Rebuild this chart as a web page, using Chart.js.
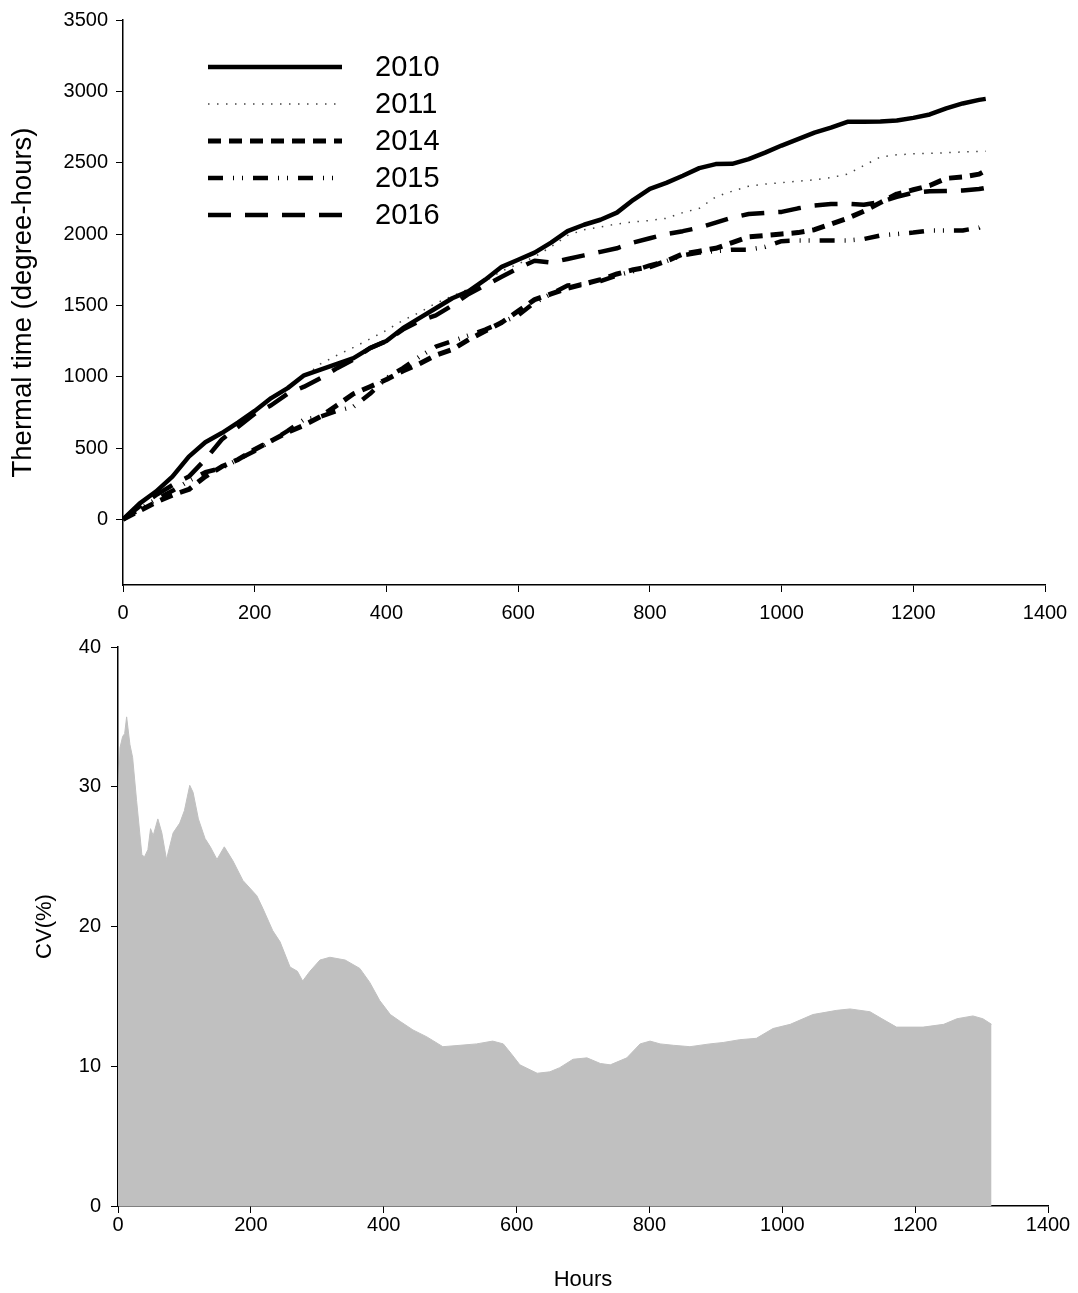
<!DOCTYPE html>
<html>
<head>
<meta charset="utf-8">
<script src="https://cdn.jsdelivr.net/npm/chart.js@4/dist/chart.umd.min.js"></script>
<style>
  body { margin: 0; background: #fff; }
  canvas { position: absolute; left: 0; }
  #topChart { top: 0; }
  #cvChart { top: 625px; }
</style>
</head>
<body>
<canvas id="topChart" width="1078" height="625"></canvas>
<canvas id="cvChart" width="1078" height="668"></canvas>
<script>
// data
var years = ['2010', '2011', '2014', '2015', '2016'];
var hours = [0, 25, 50, 75, 100, 125, 150, 175, 200, 225, 250, 275, 300, 325, 350, 375, 400, 425, 450, 475,
  500, 525, 550, 575, 600, 625, 650, 675, 700, 725, 750, 775, 800, 825, 850, 875, 900, 925, 950, 975,
  1000, 1025, 1050, 1075, 1100, 1125, 1150, 1175, 1200, 1225, 1250, 1275, 1300, 1310];
var tt2010 = [0, 110, 195, 300, 440, 540, 605, 680, 760, 850, 920, 1010, 1050, 1090, 1130, 1200, 1250, 1340, 1410, 1480,
  1550, 1600, 1680, 1770, 1820, 1870, 1940, 2020, 2065, 2100, 2150, 2240, 2317, 2358, 2408, 2462, 2490, 2492, 2525, 2570,
  2620, 2665, 2710, 2745, 2786, 2786, 2788, 2795, 2814, 2838, 2880, 2915, 2940, 2947];
var tt2011 = [0, 110, 190, 300, 430, 540, 610, 675, 755, 840, 920, 1000, 1090, 1150, 1205, 1265, 1325, 1395, 1450, 1515,
  1565, 1615, 1670, 1740, 1790, 1840, 1910, 1990, 2030, 2050, 2070, 2085, 2095, 2110, 2150, 2180, 2260, 2300, 2335, 2350,
  2360, 2370, 2380, 2395, 2420, 2480, 2540, 2555, 2562, 2565, 2570, 2575, 2578, 2580];
var tt2014 = [0, 60, 120, 170, 210, 300, 370, 420, 490, 550, 610, 660, 720, 800, 880, 930, 980, 1040, 1090, 1150,
  1190, 1260, 1320, 1380, 1460, 1540, 1580, 1620, 1650, 1680, 1720, 1750, 1770, 1810, 1860, 1880, 1900, 1940, 1980, 1990,
  2000, 2010, 2030, 2070, 2110, 2160, 2220, 2280, 2310, 2340, 2390, 2400, 2420, 2445];
var tt2015 = [0, 70, 140, 200, 270, 330, 360, 420, 480, 550, 620, 700, 720, 760, 790, 880, 990, 1060, 1140, 1210,
  1250, 1290, 1330, 1380, 1430, 1520, 1580, 1640, 1650, 1670, 1710, 1740, 1780, 1810, 1850, 1870, 1880, 1890, 1890, 1910,
  1950, 1955, 1955, 1955, 1955, 1965, 1990, 2000, 2010, 2025, 2025, 2025, 2045, 2070];
var tt2016 = [0, 90, 170, 240, 300, 420, 560, 650, 740, 800, 880, 930, 990, 1060, 1120, 1200, 1250, 1330, 1390, 1430,
  1500, 1580, 1640, 1700, 1760, 1813, 1800, 1825, 1850, 1875, 1900, 1940, 1970, 2000, 2020, 2044, 2080, 2115, 2140, 2148,
  2155, 2180, 2200, 2210, 2212, 2205, 2225, 2260, 2290, 2300, 2302, 2305, 2315, 2324];

var cvHours = [0, 3, 7, 10, 13, 18, 22, 28, 36, 40, 45, 49, 53, 60, 66, 73, 83, 93, 100, 108,
  113, 121, 131, 139, 149, 160, 173, 188, 209, 218, 233, 244, 259, 270, 278, 289, 304, 319, 342, 364,
  379, 394, 410, 425, 444, 465, 489, 515, 540, 564, 580, 592, 605, 631, 650, 665, 685, 706, 726, 741,
  766, 786, 801, 816, 836, 861, 891, 911, 936, 961, 986, 1012, 1046, 1082, 1102, 1132, 1150, 1172, 1212, 1243,
  1263, 1287, 1302, 1315];
var cvValues = [28.3, 32.8, 33.6, 33.8, 35.0, 33.0, 32.1, 29.0, 25.1, 25.0, 25.5, 27.0, 26.5, 27.7, 26.7, 24.8, 26.7, 27.4, 28.3, 30.1,
  29.6, 27.7, 26.3, 25.7, 24.8, 25.7, 24.7, 23.3, 22.2, 21.3, 19.7, 18.9, 17.1, 16.8, 16.1, 16.8, 17.6, 17.8, 17.6, 17.0,
  16.0, 14.7, 13.7, 13.2, 12.6, 12.1, 11.4, 11.5, 11.6, 11.8, 11.6, 10.9, 10.1, 9.5, 9.6, 9.9, 10.5, 10.6, 10.2, 10.1,
  10.6, 11.6, 11.8, 11.6, 11.5, 11.4, 11.6, 11.7, 11.9, 12.0, 12.7, 13.0, 13.7, 14.0, 14.1, 13.9, 13.4, 12.8, 12.8, 13.0,
  13.4, 13.6, 13.4, 13.0];

var xTicks = [0, 200, 400, 600, 800, 1000, 1200, 1400];
var ttTicks = [0, 500, 1000, 1500, 2000, 2500, 3000, 3500];
var cvTicks = [0, 10, 20, 30, 40];

Chart.defaults.font.family = "'Liberation Sans', Arial, sans-serif";
Chart.defaults.color = '#000';

function fixedTicks(values) {
  return function (scale) {
    scale.ticks = values.map(function (v) { return { value: v }; });
  };
}
function plainLabel(v) { return String(v); }

var gridOpts = { drawOnChartArea: false, color: '#000', tickLength: 7, lineWidth: 1 };
var borderOpts = { color: '#000', width: 1.5 };

var lineStyles = [
  { borderColor: '#000', borderWidth: 4.5, borderDash: [] },
  { borderColor: '#444', borderWidth: 1.5, borderDash: [1.5, 7.5] },
  { borderColor: '#000', borderWidth: 5, borderDash: [13, 8] },
  { borderColor: '#000', borderWidth: 4.5, borderDash: [15, 10, 1, 8, 1, 10] },
  { borderColor: '#000', borderWidth: 4.5, borderDash: [23, 14] }
];
var series = [tt2010, tt2011, tt2014, tt2015, tt2016];

var datasets = series.map(function (s, k) {
  return {
    label: years[k],
    data: hours.map(function (h, i) { return { x: h, y: s[i] }; }),
    borderColor: lineStyles[k].borderColor,
    borderWidth: lineStyles[k].borderWidth,
    borderDash: lineStyles[k].borderDash,
    borderCapStyle: 'butt',
    borderJoinStyle: 'round',
    pointRadius: 0,
    tension: 0,
    fill: false
  };
});

// legend drawn inside the plot, like the original
var insideLegend = {
  id: 'insideLegend',
  afterDraw: function (chart) {
    var ctx = chart.ctx;
    ctx.save();
    chart.data.datasets.forEach(function (ds, i) {
      var y = 67 + i * 37;
      ctx.beginPath();
      ctx.strokeStyle = ds.borderColor;
      ctx.lineWidth = ds.borderWidth;
      ctx.lineCap = 'butt';
      ctx.setLineDash(ds.borderDash);
      ctx.moveTo(208, y);
      ctx.lineTo(342, y);
      ctx.stroke();
      ctx.setLineDash([]);
      ctx.fillStyle = '#000';
      ctx.font = "29px 'Liberation Sans', Arial, sans-serif";
      ctx.textBaseline = 'middle';
      ctx.fillText(ds.label, 375, y + 1);
    });
    ctx.restore();
  }
};

new Chart(document.getElementById('topChart'), {
  type: 'line',
  data: { datasets: datasets },
  plugins: [insideLegend],
  options: {
    responsive: false,
    animation: false,
    layout: { padding: { left: 0, right: 33, top: 19, bottom: 0 } },
    plugins: { legend: { display: false }, tooltip: { enabled: false } },
    scales: {
      x: {
        type: 'linear', min: 0, max: 1400,
        afterBuildTicks: fixedTicks(xTicks),
        afterFit: function (s) { s.height = 40; },
        grid: gridOpts, border: borderOpts,
        ticks: { font: { size: 20 }, padding: 9, maxRotation: 0, autoSkip: false, callback: plainLabel }
      },
      y: {
        type: 'linear', min: -460, max: 3500,
        afterBuildTicks: fixedTicks(ttTicks),
        afterFit: function (s) { s.width = 123; },
        grid: gridOpts, border: borderOpts,
        ticks: { font: { size: 20 }, padding: 8, autoSkip: false, callback: plainLabel },
        title: { display: true, text: 'Thermal time (degree-hours)', font: { size: 27.5 }, padding: { top: 7, bottom: 0 } }
      }
    }
  }
});

new Chart(document.getElementById('cvChart'), {
  type: 'line',
  data: {
    datasets: [{
      label: 'CV(%)',
      data: cvHours.map(function (h, i) { return { x: h, y: cvValues[i] }; }),
      backgroundColor: '#c0c0c0',
      borderColor: '#c0c0c0',
      borderWidth: 1,
      pointRadius: 0,
      tension: 0,
      fill: 'origin'
    }]
  },
  options: {
    responsive: false,
    animation: false,
    layout: { padding: { left: 0, right: 30, top: 17, bottom: 0 } },
    plugins: { legend: { display: false }, tooltip: { enabled: false } },
    scales: {
      x: {
        type: 'linear', min: 0, max: 1400,
        afterBuildTicks: fixedTicks(xTicks),
        afterFit: function (s) { s.height = 87; },
        grid: gridOpts, border: borderOpts,
        ticks: { font: { size: 20 }, padding: 0, maxRotation: 0, autoSkip: false, callback: plainLabel },
        title: { display: true, text: 'Hours', font: { size: 22 }, padding: { top: 0, bottom: 0 } }
      },
      y: {
        type: 'linear', min: 0, max: 40,
        afterBuildTicks: fixedTicks(cvTicks),
        afterFit: function (s) { s.width = 118; },
        grid: gridOpts, border: borderOpts,
        ticks: { font: { size: 20 }, padding: 10, autoSkip: false, callback: plainLabel },
        title: { display: true, text: 'CV(%)', font: { size: 22 }, padding: { top: 32, bottom: 0 } }
      }
    }
  }
});
</script>
</body>
</html>
